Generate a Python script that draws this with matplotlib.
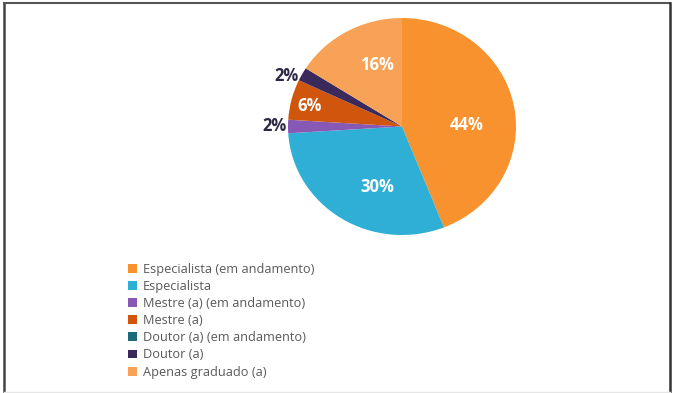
import numpy as np
import matplotlib
matplotlib.use("Agg")
import matplotlib.pyplot as plt
from matplotlib.lines import Line2D

plt.rcParams['font.family'] = ['Open Sans', 'DejaVu Sans']

# Data
categories = [
    "Especialista (em andamento)",
    "Especialista",
    "Mestre (a) (em andamento)",
    "Mestre (a)",
    "Doutor (a) (em andamento)",
    "Doutor (a)",
    "Apenas graduado (a)",
]
shares = [44, 30, 2, 6, 0, 2, 16]
colors = ["#F7922E", "#2FAFD6", "#8759B5", "#CF560C", "#1B6A7E", "#3A2A5C", "#F7A257"]

# label placement: (radius, angle shift in deg), inside labels white, outside dark
label_pos = [(0.57, -9), (0.6, 11), (1.12, 0), (0.83, 1), (0, 0), (1.12, 4), (0.61, -8)]
label_inside = [True, True, False, True, False, False, True]

W, H = 674, 393
fig = plt.figure(figsize=(W / 100, H / 100), dpi=100)

# pie axes (slightly wider than tall, like the original)
left, right, top, bottom = 288, 516, 18, 235
ax = fig.add_axes([left / W, 1 - bottom / H, (right - left) / W, (bottom - top) / H])
wedges, _ = ax.pie(shares, colors=colors, startangle=90, counterclock=False,
                   radius=1.0, wedgeprops=dict(linewidth=0))
ax.set_aspect('auto')
ax.set_xlim(-1, 1)
ax.set_ylim(-1, 1)
ax.axis('off')

for w, val, (r, dth), inside in zip(wedges, shares, label_pos, label_inside):
    if val == 0:
        continue
    mid = np.deg2rad((w.theta1 + w.theta2) / 2 + dth)
    x, y = r * np.cos(mid), r * np.sin(mid)
    ax.text(x, y, f"{val}%", ha='center', va='center', fontsize=12, fontweight='bold',
            color='white' if inside else '#2B2745')

# legend
fig.legend(wedges, categories, loc='upper left', bbox_to_anchor=(128 / W, 1 - 263 / H),
           frameon=False, fontsize=9.2, handlelength=0.7, handleheight=0.7,
           handletextpad=0.45, labelspacing=0.32, borderaxespad=0, borderpad=0,
           labelcolor='#595959')

# outer frame of the screenshot
fig.add_artist(Line2D([4 / W, 4 / W], [0, 1 - 3 / H], transform=fig.transFigure, color='#444444', lw=1.8))
fig.add_artist(Line2D([4 / W, 670 / W], [1 - 3 / H, 1 - 3 / H], transform=fig.transFigure, color='#555555', lw=1.5))
fig.add_artist(Line2D([670 / W, 670 / W], [0, 1 - 3 / H], transform=fig.transFigure, color='#333333', lw=1.8))
fig.add_artist(Line2D([4 / W, 670 / W], [1.5 / H, 1.5 / H], transform=fig.transFigure, color='#E6E6E6', lw=1.0))

fig.savefig("out.png", dpi=100)
